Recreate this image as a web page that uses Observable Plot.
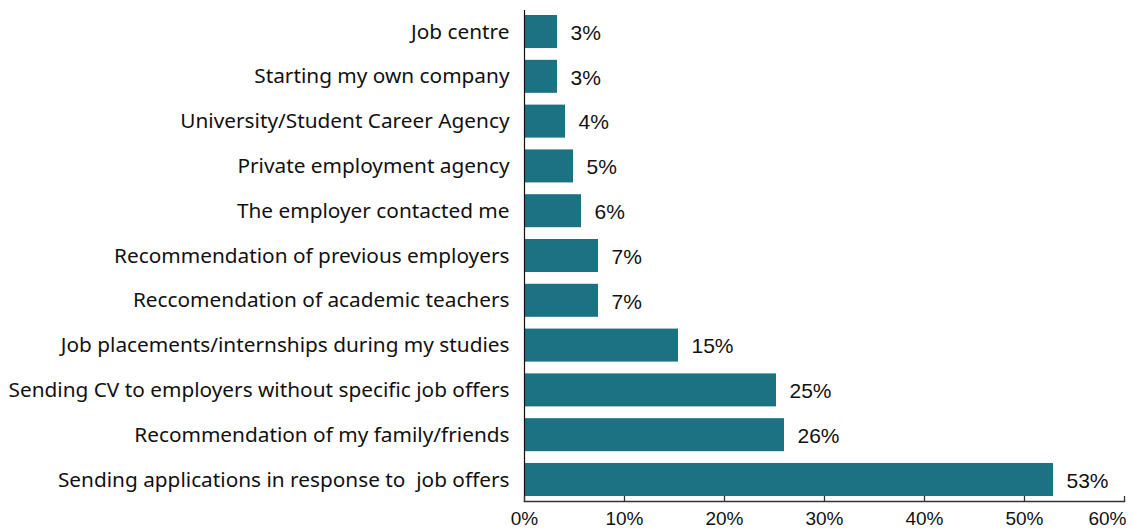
<!DOCTYPE html>
<html>
<head>
<meta charset="utf-8">
<script src="https://cdn.jsdelivr.net/npm/d3@7"></script>
<script src="https://cdn.jsdelivr.net/npm/@observablehq/plot@0.6"></script>
<style>
  html, body { margin: 0; padding: 0; background: #fff; }
  #chart svg { display: block; }
</style>
</head>
<body>
<div id="chart"></div>
<script>
const categories = [
  "Job centre",
  "Starting my own company",
  "University/Student Career Agency",
  "Private employment agency",
  "The employer contacted me",
  "Recommendation of previous employers",
  "Reccomendation of academic teachers",
  "Job placements/internships during my studies",
  "Sending CV to employers without specific job offers",
  "Recommendation of my family/friends",
  "Sending applications in response to  job offers"
];
const values = [3.3, 3.3, 4.1, 4.9, 5.7, 7.4, 7.4, 15.4, 25.2, 26.0, 52.9];
const valueLabels = ["3%", "3%", "4%", "5%", "6%", "7%", "7%", "15%", "25%", "26%", "53%"];
const xTicks = [0, 10, 20, 30, 40, 50, 60];

const data = categories.map((c, i) => ({category: c, value: values[i], label: valueLabels[i]}));

const labelFont = "'Noto Sans', sans-serif";
const numFont = "'Liberation Sans', Arial, sans-serif";
const innerTicks = xTicks.slice(0, -1);
const lastTick = xTicks.slice(-1);

const chart = Plot.plot({
  width: 1133,
  height: 529,
  marginLeft: 524,
  marginRight: 9,
  marginTop: 10,
  marginBottom: 28,
  style: {fontFamily: numFont, fontSize: "20px", color: "#111", background: "#fff"},
  x: {domain: [0, 60], label: null, round: false},
  y: {domain: categories, paddingInner: 0.263, paddingOuter: 0.112, round: false, label: null},
  marks: [
    Plot.barX(data, {x: "value", y: "category", fill: "#1c7282"}),
    Plot.text(data, {x: "value", y: "category", text: "label", textAnchor: "start", dx: 13, dy: 1, fontSize: 21, fontFamily: numFont, fill: "#111"}),
    Plot.frame({anchor: "left", stroke: "#111", strokeWidth: 1.2}),
    Plot.frame({anchor: "bottom", stroke: "#333", strokeWidth: 1.5}),
    Plot.axisX({ticks: xTicks, tickSize: 5, dy: -5, tickFormat: () => "", stroke: "#333", strokeWidth: 1.3}),
    Plot.axisX({ticks: innerTicks, tickSize: 0, tickPadding: 10, tickFormat: d => d + "%", fontSize: 19, fontFamily: numFont, fill: "#111"}),
    Plot.axisX({ticks: lastTick, tickSize: 0, tickPadding: 10, tickFormat: d => d + "%", textAnchor: "end", dx: 2, fontSize: 19, fontFamily: numFont, fill: "#111"}),
    Plot.axisY({tickSize: 0, tickPadding: 15, fontSize: 20.8, fontFamily: labelFont, fill: "#111"})
  ]
});
document.getElementById("chart").appendChild(chart);
</script>
</body>
</html>
